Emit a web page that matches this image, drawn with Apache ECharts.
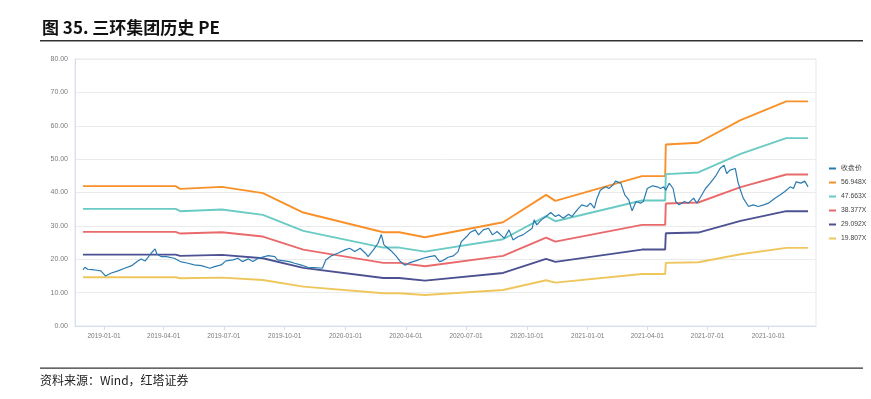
<!DOCTYPE html>
<html>
<head>
<meta charset="utf-8">
<title>三环集团历史 PE</title>
<script src="https://cdn.jsdelivr.net/npm/echarts@6/dist/echarts.min.js"></script>
<style>
html, body { margin: 0; padding: 0; background: #fff; }
#chart { width: 871px; height: 399px; }
</style>
</head>
<body>
<div id="chart"></div>
<script>
// 图例名称
var legendNames = ['收盘价', '56.948X', '47.663X', '38.377X', '29.092X', '19.807X'];
// 横轴刻度
var tickDates = ['2019-01-01', '2019-04-01', '2019-07-01', '2019-10-01', '2020-01-01', '2020-04-01',
  '2020-07-01', '2020-10-01', '2021-01-01', '2021-04-01', '2021-07-01', '2021-10-01'];

// 收盘价
var priceDates = [
  '2018-11-30', '2018-12-03', '2018-12-07', '2018-12-14', '2018-12-21', '2018-12-27', '2019-01-03', '2019-01-11',
  '2019-01-22', '2019-02-01', '2019-02-11', '2019-02-21', '2019-02-26', '2019-03-04', '2019-03-08', '2019-03-13',
  '2019-03-19', '2019-03-22', '2019-03-28', '2019-04-05', '2019-04-17', '2019-04-26', '2019-05-08', '2019-05-17',
  '2019-05-28', '2019-06-10', '2019-06-17', '2019-06-27', '2019-07-04', '2019-07-15', '2019-07-22', '2019-07-29',
  '2019-08-07', '2019-08-14', '2019-08-22', '2019-09-06', '2019-09-16', '2019-09-20', '2019-10-08', '2019-10-16',
  '2019-10-25', '2019-11-05', '2019-11-15', '2019-11-27', '2019-12-02', '2019-12-11', '2019-12-20', '2019-12-31',
  '2020-01-07', '2020-01-15', '2020-01-23', '2020-01-31', '2020-02-04', '2020-02-12', '2020-02-19', '2020-02-24',
  '2020-02-28', '2020-03-05', '2020-03-11', '2020-03-17', '2020-03-23', '2020-03-31', '2020-04-07', '2020-04-17',
  '2020-04-27', '2020-05-07', '2020-05-15', '2020-05-22', '2020-05-27', '2020-06-04', '2020-06-12', '2020-06-19',
  '2020-06-24', '2020-07-02', '2020-07-07', '2020-07-15', '2020-07-20', '2020-07-27', '2020-08-04', '2020-08-10',
  '2020-08-17', '2020-08-24', '2020-08-28', '2020-09-04', '2020-09-10', '2020-09-18', '2020-09-25', '2020-10-09',
  '2020-10-12', '2020-10-16', '2020-10-23', '2020-10-30', '2020-11-06', '2020-11-13', '2020-11-18', '2020-11-25',
  '2020-12-03', '2020-12-08', '2020-12-16', '2020-12-23', '2020-12-31', '2021-01-05', '2021-01-11', '2021-01-15',
  '2021-01-20', '2021-01-28', '2021-02-02', '2021-02-08', '2021-02-12', '2021-02-20', '2021-02-26', '2021-03-04',
  '2021-03-09', '2021-03-15', '2021-03-22', '2021-03-26', '2021-04-01', '2021-04-09', '2021-04-16', '2021-04-21',
  '2021-04-26', '2021-04-29', '2021-05-04', '2021-05-10', '2021-05-14', '2021-05-19', '2021-05-27', '2021-06-02',
  '2021-06-10', '2021-06-15', '2021-06-21', '2021-06-28', '2021-07-05', '2021-07-13', '2021-07-20', '2021-07-26',
  '2021-07-30', '2021-08-04', '2021-08-12', '2021-08-16', '2021-08-19', '2021-08-24', '2021-09-01', '2021-09-08',
  '2021-09-16', '2021-09-24', '2021-10-01', '2021-10-11', '2021-10-19', '2021-10-26', '2021-11-03', '2021-11-08',
  '2021-11-12', '2021-11-19', '2021-11-25', '2021-11-30'
];
var priceValues = [
  16.8, 17.6, 17.0, 16.9, 16.7, 16.5, 15.0, 15.8,
  16.5, 17.3, 18.0, 19.5, 20.1, 19.5, 20.5, 21.8,
  23.1, 21.5, 20.8, 20.8, 20.3, 19.3, 18.8, 18.3,
  18.1, 17.3, 17.8, 18.3, 19.5, 19.8, 20.3, 19.3,
  20.1, 19.3, 20.3, 21.1, 20.8, 19.8, 19.3, 18.8,
  18.3, 17.6, 17.5, 17.3, 19.8, 21.1, 21.8, 22.8,
  23.3, 22.3, 23.3, 21.8, 20.8, 22.8, 24.8, 27.4,
  24.3, 23.3, 22.3, 21.0, 19.5, 18.2, 19.0, 19.6,
  20.3, 20.8, 21.1, 19.3, 19.6, 20.6, 21.0, 22.3,
  25.3, 26.8, 28.0, 28.8, 27.3, 28.8, 29.3, 27.3,
  28.3, 27.0, 26.3, 28.8, 25.8, 26.8, 27.3, 29.3,
  31.8, 30.3, 31.8, 32.8, 34.0, 32.8, 33.3, 32.3,
  33.5, 32.8, 34.8, 36.3, 35.8, 36.8, 35.3, 38.3,
  40.7, 41.7, 41.2, 42.2, 43.4, 42.8, 39.3, 37.8,
  34.5, 37.3, 36.8, 37.3, 41.2, 42.0, 41.7, 41.2,
  41.7, 40.7, 42.8, 41.2, 37.3, 36.3, 37.3, 36.8,
  38.3, 36.8, 38.8, 41.2, 42.8, 44.8, 47.2, 48.2,
  45.7, 46.7, 47.2, 43.2, 41.2, 38.3, 35.8, 36.3,
  35.8, 36.3, 36.8, 38.3, 39.3, 40.3, 41.7, 41.2,
  43.2, 42.8, 43.4, 41.7
];

// PE 通道
var bandDates = ['2018-11-30', '2019-04-19', '2019-04-26', '2019-06-28', '2019-08-29', '2019-10-29', '2020-02-27',
  '2020-03-22', '2020-04-30', '2020-08-26', '2020-10-30', '2020-11-13', '2021-03-24', '2021-04-28', '2021-04-29',
  '2021-06-17', '2021-08-20', '2021-10-28', '2021-11-30'];
var pe56 = [41.9, 41.9, 41.1, 41.7, 39.8, 34.0, 28.1, 28.1, 26.6, 31.1, 39.3, 37.5, 44.9, 44.9, 54.4, 54.9, 61.7, 67.3, 67.3];
var pe47 = [35.1, 35.1, 34.4, 34.9, 33.3, 28.5, 23.5, 23.5, 22.3, 26.0, 32.9, 31.4, 37.6, 37.6, 45.5, 46.0, 51.6, 56.3, 56.3];
var pe38 = [28.2, 28.2, 27.7, 28.1, 26.8, 22.9, 18.9, 18.9, 17.9, 21.0, 26.5, 25.3, 30.3, 30.3, 36.7, 37.0, 41.6, 45.4, 45.4];
var pe29 = [21.4, 21.4, 21.0, 21.3, 20.3, 17.4, 14.4, 14.4, 13.6, 15.9, 20.1, 19.2, 22.9, 22.9, 27.8, 28.0, 31.5, 34.4, 34.4];
var pe19 = [14.6, 14.6, 14.3, 14.5, 13.8, 11.8, 9.8, 9.8, 9.3, 10.8, 13.7, 13.0, 15.6, 15.6, 18.9, 19.1, 21.5, 23.4, 23.4];

var colors = ['#2b7bb0', '#f8912a', '#6acac4', '#ea6a6c', '#4c5192', '#eec65c'];

function toTime(s) {
  return new Date(s.replace(/-/g, '/')).getTime();
}
function pair(dates, vals) {
  return dates.map(function (d, i) { return [toTime(d), vals[i]]; });
}
function pad(n) { return n < 10 ? '0' + n : '' + n; }

var chart = echarts.init(document.getElementById('chart'));
var ticks = tickDates.map(toTime);
var bands = [pe56, pe47, pe38, pe29, pe19];

var series = [{
  name: legendNames[0],
  type: 'line',
  showSymbol: false,
  z: 5,
  lineStyle: { width: 1.2, color: colors[0] },
  itemStyle: { color: colors[0] },
  data: pair(priceDates, priceValues)
}];
bands.forEach(function (b, i) {
  series.push({
    name: legendNames[i + 1],
    type: 'line',
    showSymbol: false,
    z: 3,
    lineStyle: { width: 1.9, color: colors[i + 1] },
    itemStyle: { color: colors[i + 1] },
    data: pair(bandDates, b)
  });
});

var option = {
  animation: false,
  color: colors,
  grid: {
    left: 75, right: 55, top: 59, bottom: 73,
    show: true, borderColor: '#e3e7ef', borderWidth: 1
  },
  legend: {
    orient: 'vertical',
    left: 824, top: 160,
    icon: 'rect', itemWidth: 7, itemHeight: 2, itemGap: 7,
    textStyle: { fontSize: 6.8, color: '#444', fontFamily: 'Liberation Sans' },
    data: legendNames
  },
  // 时间用数值轴表示，刻度取季度初
  xAxis: {
    type: 'value',
    min: toTime('2018-11-18'),
    max: toTime('2021-12-12'),
    axisLine: { lineStyle: { color: '#d7def0' } },
    axisTick: { show: true, customValues: ticks, length: 4, lineStyle: { color: '#d7def0' } },
    splitLine: { show: false },
    axisLabel: {
      customValues: ticks,
      margin: 7,
      fontSize: 6.5,
      color: '#7a7a7a',
      fontFamily: 'Liberation Sans',
      formatter: function (v) {
        var d = new Date(v);
        return d.getFullYear() + '-' + pad(d.getMonth() + 1) + '-' + pad(d.getDate());
      }
    }
  },
  yAxis: {
    type: 'value',
    min: 0, max: 80, interval: 10,
    axisLine: { show: true, lineStyle: { color: '#d7def0' } },
    axisTick: { show: false },
    splitLine: { lineStyle: { color: '#ebebeb' } },
    axisLabel: {
      margin: 7,
      fontSize: 7,
      color: '#7a7a7a',
      fontFamily: 'Liberation Sans',
      formatter: function (v) { return v.toFixed(2); }
    }
  },
  graphic: [
    {
      type: 'text', left: 42, top: 19,
      style: { text: '图 35. 三环集团历史 PE', font: 'bold 17px "Noto Sans CJK SC"', fill: '#111' }
    },
    {
      type: 'rect', shape: { x: 40, y: 40, width: 823, height: 1.5 },
      style: { fill: '#333' }
    },
    {
      type: 'rect', shape: { x: 40, y: 367.5, width: 823, height: 1.2 },
      style: { fill: '#333' }
    },
    {
      type: 'text', left: 40, top: 374,
      style: { text: '资料来源：Wind，红塔证券', font: '12px "Noto Sans CJK SC"', fill: '#222' }
    }
  ],
  series: series
};
chart.setOption(option);
</script>
</body>
</html>
